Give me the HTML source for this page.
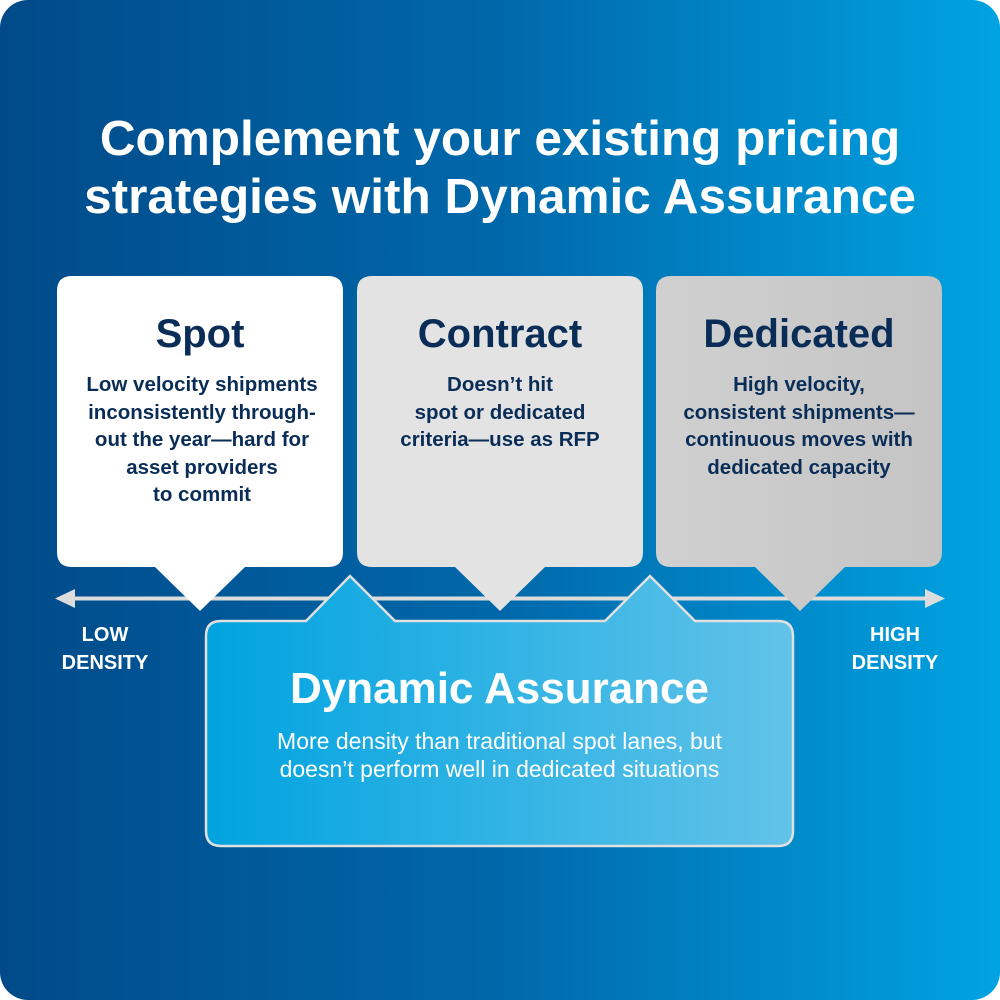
<!DOCTYPE html>
<html><head><meta charset="utf-8"><style>
html,body{margin:0;padding:0;background:#fff;}
.w{position:relative;width:1000px;height:1000px;overflow:hidden;font-family:"Liberation Sans",sans-serif;}
svg{position:absolute;left:0;top:0;}
.t{position:absolute;text-align:center;font-weight:bold;}
</style></head><body><div class="w">
<svg width="1000" height="1000" viewBox="0 0 1000 1000">
<defs>
<linearGradient id="bg" x1="0" x2="1" y1="0" y2="0"><stop offset="0" stop-color="#004a89"/><stop offset="0.5" stop-color="#0068aa"/><stop offset="1" stop-color="#00a3e2"/></linearGradient>
<linearGradient id="da" x1="0" x2="1"><stop offset="0" stop-color="#00a3e0"/><stop offset="1" stop-color="#62c3e8"/></linearGradient>
<linearGradient id="ded" x1="0" x2="1"><stop offset="0" stop-color="#d0d0d0"/><stop offset="1" stop-color="#c4c4c4"/></linearGradient>
</defs>
<rect x="0" y="0" width="1000" height="1000" rx="28" fill="url(#bg)"/>
<line x1="68" y1="598.5" x2="932" y2="598.5" stroke="#dcdcdc" stroke-width="4"/>
<path d="M55 598.5L75 589V608Z" fill="#dcdcdc"/>
<path d="M945 598.5L925 589V608Z" fill="#dcdcdc"/>
<path d="M72 276H328Q343 276 343 291V552Q343 567 328 567H245L200 611L155 567H72Q57 567 57 552V291Q57 276 72 276Z" fill="#fff"/>
<path d="M372 276H628Q643 276 643 291V552Q643 567 628 567H545L500 611L455 567H372Q357 567 357 552V291Q357 276 372 276Z" fill="#e3e3e3"/>
<path d="M671 276H927Q942 276 942 291V552Q942 567 927 567H845L800 611L755 567H671Q656 567 656 552V291Q656 276 671 276Z" fill="url(#ded)"/>
<path d="M221 621H306L350 576L395 621H605L650 576L695 621H778Q793 621 793 636V831Q793 846 778 846H221Q206 846 206 831V636Q206 621 221 621Z" fill="url(#da)" stroke="#e0e0e0" stroke-width="2.5"/>
</svg>
<div class="t" style="left:0;width:1000px;top:110px;color:#fff;font-size:49.5px;line-height:58px;">Complement your existing pricing<br>strategies with Dynamic Assurance</div>
<div class="t" style="left:57px;top:312px;width:286px;color:#0a2d57;font-size:40px;">Spot</div>
<div class="t" style="left:357px;top:312px;width:286px;color:#0a2d57;font-size:40px;">Contract</div>
<div class="t" style="left:656px;top:312px;width:286px;color:#0a2d57;font-size:40px;">Dedicated</div>
<div class="t" style="left:52px;top:371px;width:300px;color:#0a2d57;font-size:20.5px;line-height:27.5px;">Low velocity shipments<br>inconsistently through-<br>out the year—hard for<br>asset providers<br>to commit</div>
<div class="t" style="left:352px;top:371px;width:296px;color:#0a2d57;font-size:20.5px;line-height:27.5px;">Doesn’t hit<br>spot or dedicated<br>criteria—use as RFP</div>
<div class="t" style="left:651px;top:371px;width:296px;color:#0a2d57;font-size:20.5px;line-height:27.5px;">High velocity,<br>consistent shipments—<br>continuous moves with<br>dedicated capacity</div>
<div class="t" style="left:40px;top:621px;width:130px;color:#fff;font-size:20px;line-height:28px;">LOW<br>DENSITY</div>
<div class="t" style="left:830px;top:621px;width:130px;color:#fff;font-size:20px;line-height:28px;">HIGH<br>DENSITY</div>
<div class="t" style="left:156px;top:664px;width:687px;color:#fff;font-size:44px;">Dynamic Assurance</div>
<div class="t" style="left:156px;top:727px;width:687px;color:#fff;font-size:23px;line-height:28px;font-weight:normal;">More density than traditional spot lanes, but<br>doesn’t perform well in dedicated situations</div>
</div></body></html>
